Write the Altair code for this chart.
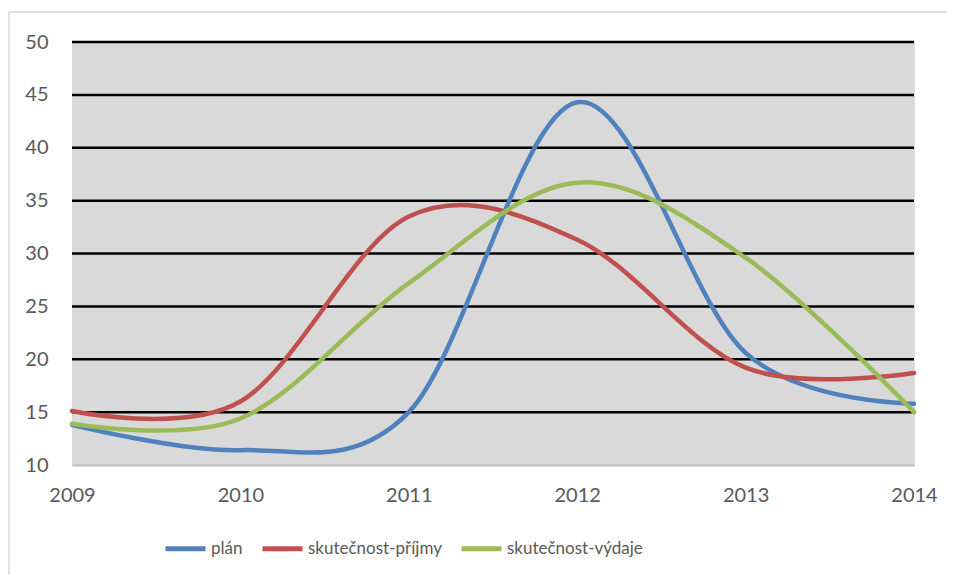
import altair as alt
import pandas as pd

years = [2009, 2010, 2011, 2012, 2013, 2014]
plan = [13.8, 11.4, 15.0, 44.3, 20.6, 15.8]
prijmy = [15.1, 16.0, 33.5, 31.3, 19.2, 18.7]
vydaje = [13.9, 14.4, 27.2, 36.7, 29.6, 15.0]
series_names = ["plán", "skutečnost-příjmy", "skutečnost-výdaje"]
colors = ["#4F81BD", "#C0504D", "#9BBB59"]
y_ticks = [10, 15, 20, 25, 30, 35, 40, 45, 50]

rows = []
for name, vals in zip(series_names, [plan, prijmy, vydaje]):
    for yr, v in zip(years, vals):
        rows.append({"rok": yr, "hodnota": v, "serie": name})
df = pd.DataFrame(rows)
grid_df = pd.DataFrame({"hodnota": [t for t in y_ticks if t != y_ticks[0]]})
bg_df = pd.DataFrame({"rok": [years[0]], "rok2": [years[-1]],
                      "hodnota": [y_ticks[0]], "hodnota2": [y_ticks[-1]]})

FONT = "Lato"
TXT = "#595959"

xscale = alt.Scale(domain=[years[0], years[-1]], nice=False, zero=False)
yscale = alt.Scale(domain=[y_ticks[0], y_ticks[-1]], nice=False, zero=False)
xaxis = alt.Axis(values=years, format="d", title=None, grid=False, ticks=False,
                 domainColor="#bfbfbf", domainWidth=2, labelFontSize=20,
                 labelFont=FONT, labelColor=TXT, labelPadding=20, labelFlush=False,
                 zindex=1)
yaxis = alt.Axis(values=y_ticks, title=None, domain=False, ticks=False, grid=False,
                 labelFontSize=20, labelFont=FONT, labelColor=TXT, labelPadding=24)

one = pd.DataFrame({"a": [0]})
frame_top = alt.Chart(one).mark_rule(stroke="#d9d9d9", strokeWidth=1.5).encode(
    x=alt.value(-63), x2=alt.value(1000), y=alt.value(-30), y2=alt.value(-30))
frame_left = alt.Chart(one).mark_rule(stroke="#d9d9d9", strokeWidth=1.5).encode(
    x=alt.value(-63), x2=alt.value(-63), y=alt.value(-30), y2=alt.value(700))

bg = alt.Chart(bg_df).mark_rect(fill="#d9d9d9").encode(
    x=alt.X("rok:Q", scale=xscale, axis=xaxis), x2="rok2:Q",
    y=alt.Y("hodnota:Q", scale=yscale, axis=yaxis), y2="hodnota2:Q")

grid = alt.Chart(grid_df).mark_rule(stroke="black", strokeWidth=2.5).encode(
    y=alt.Y("hodnota:Q", scale=yscale, axis=yaxis))

lines = alt.Chart(df).mark_line(
    interpolate="cardinal", tension=0, strokeWidth=4.5, strokeCap="round", clip=False
).encode(
    x=alt.X("rok:Q", scale=xscale, axis=xaxis),
    y=alt.Y("hodnota:Q", scale=yscale, axis=yaxis),
    color=alt.Color("serie:N", scale=alt.Scale(domain=series_names, range=colors),
                    legend=alt.Legend(title=None, orient="none", direction="horizontal",
                                      legendX=91, legendY=484, symbolType="stroke",
                                      symbolSize=1600, symbolStrokeWidth=5,
                                      labelFontSize=17, labelFont=FONT, labelColor=TXT,
                                      columnPadding=9, labelOffset=3)),
    order=alt.Order("rok:Q"),
)

chart = alt.layer(frame_top, frame_left, bg, grid, lines).properties(
    width=842, height=423,
    autosize=alt.AutoSizeParams(type="none"),
    padding={"left": 64, "top": 34, "right": 33, "bottom": 110},
).configure_view(stroke=None).configure(background="white")

chart.save("out.html", embed_options={"renderer": "svg", "actions": False})
